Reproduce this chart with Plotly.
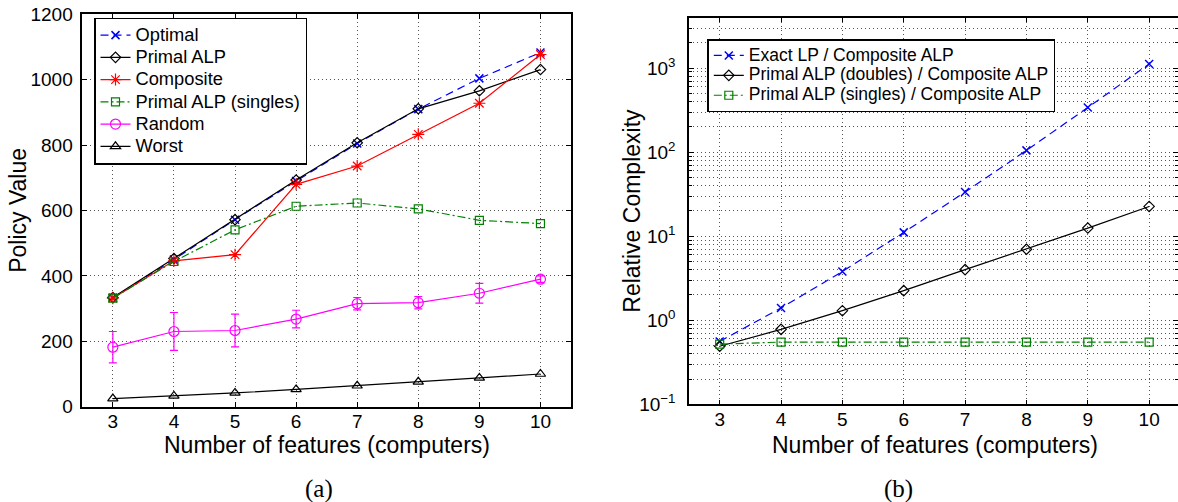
import plotly.graph_objects as go

# ---------------- data ----------------
features = [3, 4, 5, 6, 7, 8, 9, 10]

optimal = [333, 450, 572, 690, 805, 910, 1004, 1083]
primal_alp = [334, 453, 572, 693, 807, 911, 966, 1031]
composite = [332, 446, 465, 680, 736, 833, 928, 1077]
primal_alp_singles = [332, 444, 541, 613, 623, 605, 570, 560]
random_mean = [182, 230, 233, 268, 315, 318, 347, 390]
random_err = [48, 58, 50, 27, 19, 19, 30, 10]
worst = [25, 33, 42, 53, 64, 76, 88, 100]

exact_lp_ratio = [0.56, 1.40, 3.8, 11.1, 33.5, 105, 340, 1120]
primal_doubles_ratio = [0.49, 0.78, 1.30, 2.25, 4.0, 7.0, 12.5, 22.6]
primal_singles_ratio = [0.52, 0.55, 0.55, 0.55, 0.55, 0.55, 0.55, 0.55]

left_yticks = [0, 200, 400, 600, 800, 1000, 1200]
right_ytickvals = [0.1, 1, 10, 100, 1000]
right_yticktext = ["10<sup>\u22121</sup>", "10<sup>0</sup>", "10<sup>1</sup>",
                   "10<sup>2</sup>", "10<sup>3</sup>"]

# ---------------- style ----------------
W, H = 1178, 502
FONT = "Liberation Sans, Arial, Helvetica, sans-serif"
SERIF = "Liberation Serif, Times New Roman, serif"
BLUE, RED, GREEN, MAG, BLACK = "#0000ff", "#ff0000", "#008000", "#ff00ff", "#000000"
DASH = "8px,5px"
DASHDOT = "8px,3px,2px,3px"
GRIDDASH = "1px,3px"
GRIDCOLOR = "#555555"
LW = 1.2

fig = go.Figure()

def label(s, size):
    return '<span style="font-size:%gpx">%s</span>' % (size, s)

def add(x, y, name, color, dash, symbol, size, xa, ya, legend, lsize, err=None, mlw=1.2):
    kw = {}
    if err is not None:
        kw["error_y"] = dict(type="data", array=err, visible=True, color=color,
                             thickness=LW, width=4)
    fig.add_trace(go.Scatter(
        x=x, y=y, name=label(name, lsize), mode="lines+markers",
        line=dict(color=color, width=LW, dash=dash),
        marker=dict(symbol=symbol, size=size, color=color,
                    line=dict(color=color, width=mlw)),
        xaxis=xa, yaxis=ya, legend=legend, **kw))

# left panel
L1 = 18.3
add(features, optimal, "Optimal", BLUE, DASH, "x-thin-open", 8, "x", "y", "legend", L1, mlw=1.5)
add(features, primal_alp, "Primal ALP", BLACK, "solid", "diamond-open", 8, "x", "y", "legend", L1)
add(features, composite, "Composite", RED, "solid", "asterisk-open", 10, "x", "y", "legend", L1)
add(features, primal_alp_singles, "Primal ALP (singles)", GREEN, DASHDOT, "square-open", 8, "x", "y", "legend", L1)
add(features, random_mean, "Random", MAG, "solid", "circle-open", 10, "x", "y", "legend", L1, err=random_err)
add(features, worst, "Worst", BLACK, "solid", "triangle-up-open", 9, "x", "y", "legend", L1)

# right panel
L2 = 17.5
add(features, exact_lp_ratio, "Exact LP / Composite ALP", BLUE, DASH, "x-thin-open", 8, "x2", "y2", "legend2", L2, mlw=1.5)
add(features, primal_doubles_ratio, "Primal ALP (doubles) / Composite ALP", BLACK, "solid", "diamond-open", 8, "x2", "y2", "legend2", L2)
add(features, primal_singles_ratio, "Primal ALP (singles) / Composite ALP", GREEN, DASHDOT, "square-open", 8, "x2", "y2", "legend2", L2)

grid = dict(showgrid=True, gridcolor=GRIDCOLOR, griddash=GRIDDASH, gridwidth=1)
axis_common = dict(showline=True, linecolor=BLACK, linewidth=1.5, mirror="ticks",
                   ticks="inside", ticklen=5, tickcolor=BLACK, zeroline=False,
                   automargin=False,
                   tickfont=dict(family=FONT, size=19, color=BLACK), **grid)

fig.update_layout(
    template="none",
    width=W, height=H,
    autosize=False,
    margin=dict(l=0, r=0, t=0, b=0, pad=0, autoexpand=False),
    paper_bgcolor="white", plot_bgcolor="white",
    font=dict(family=FONT, color=BLACK),
    showlegend=True,
    xaxis=dict(domain=[82.3 / W, 571 / W], range=[2.5, 10.5], anchor="y",
               tickvals=features, ticklabelstandoff=-3, **axis_common),
    yaxis=dict(domain=[(H - 406.7) / H, (H - 14.3) / H], range=[0, 1200], anchor="x",
               tickvals=left_yticks, ticklabelstandoff=4, **axis_common),
    xaxis2=dict(domain=[689 / W, 1.0], range=[2.5, 10.47], anchor="y2",
                tickvals=features, ticklabelstandoff=-3, **axis_common),
    yaxis2=dict(domain=[(H - 404.3) / H, (H - 17.7) / H], type="log", range=[-1, 3.6],
                anchor="x2", tickvals=right_ytickvals, ticktext=right_yticktext,
                ticklabelstandoff=8,
                minor=dict(dtick="D1", showgrid=True, gridcolor=GRIDCOLOR, griddash=GRIDDASH,
                           gridwidth=1, ticks="inside", ticklen=3, tickcolor=BLACK),
                **axis_common),
    legend=dict(x=94 / W, y=(H - 17.5) / H, xanchor="left", yanchor="top",
                bgcolor="white", bordercolor=BLACK, borderwidth=1.5,
                font=dict(family=FONT, size=14.8, color=BLACK), tracegroupgap=0),
    legend2=dict(x=707.3 / W, y=(H - 39) / H, xanchor="left", yanchor="top",
                 bgcolor="white", bordercolor=BLACK, borderwidth=1.5,
                 font=dict(family=FONT, size=13.0, color=BLACK), tracegroupgap=0),
)

def text(x, y, s, size, family=FONT, angle=0):
    fig.add_annotation(x=x / W, y=(H - y) / H, xref="paper", yref="paper",
                       text=s, showarrow=False, textangle=angle,
                       xanchor="center", yanchor="middle",
                       font=dict(family=family, size=size, color=BLACK))

text(18.3, 210.5, "Policy Value", 23, angle=-90)
text(326.6, 444.5, "Number of features (computers)", 23)
text(631.7, 211, "Relative Complexity", 23, angle=-90)
text(934.5, 444.5, "Number of features (computers)", 23)
text(318.8, 489, "(a)", 25, family=SERIF)
text(898, 489, "(b)", 25, family=SERIF)

fig.write_html("out.html",
               config={"displayModeBar": False, "responsive": False},
               post_script="document.body.style.margin='0';"
                           "document.body.style.overflow='hidden';")
